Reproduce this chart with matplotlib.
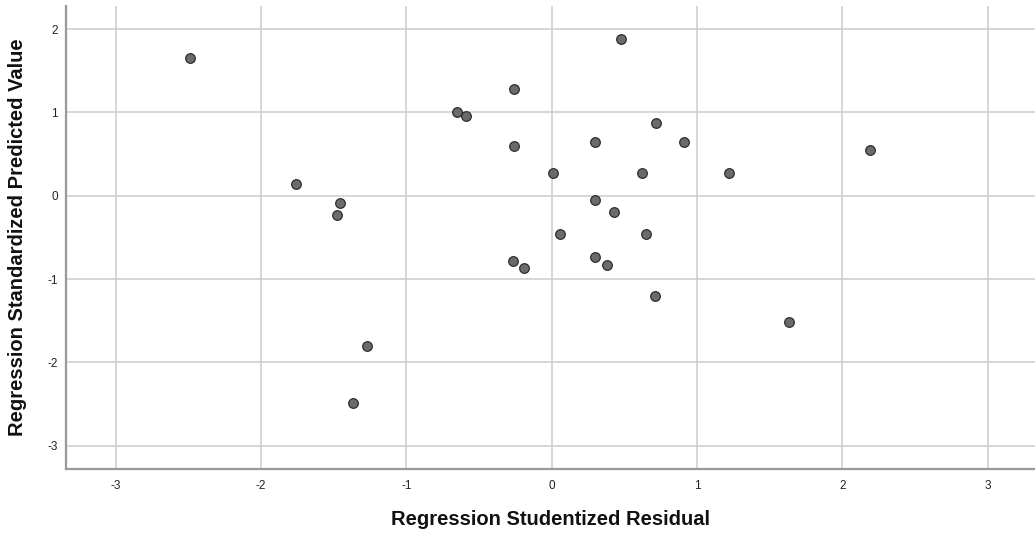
import matplotlib
matplotlib.use("Agg")
import matplotlib.pyplot as plt

studentized_residual = [-2.49, 0.48, -0.26, -0.65, -0.59, 0.72, -0.26, 0.30, 0.91,
                        0.01, 0.62, 1.22, 0.30, 0.43, 0.06, 0.65, -0.27, -0.19,
                        0.30, 0.38, 0.71, -1.76, -1.46, -1.48, -1.27, -1.37, 2.19, 1.63]
standardized_predicted = [1.65, 1.88, 1.28, 1.01, 0.96, 0.87, 0.60, 0.64, 0.64,
                          0.27, 0.27, 0.27, -0.05, -0.19, -0.46, -0.46, -0.78, -0.87,
                          -0.74, -0.83, -1.20, 0.14, -0.09, -0.23, -1.80, -2.49, 0.55, -1.52]
x_ticks = [-3, -2, -1, 0, 1, 2, 3]
y_ticks = [-3, -2, -1, 0, 1, 2]
x_label = "Regression Studentized Residual"
y_label = "Regression Standardized Predicted Value"

plt.rcParams['font.family'] = ['Liberation Sans', 'DejaVu Sans']

W, H = 1035, 539
fig = plt.figure(figsize=(W / 100, H / 100), dpi=100)
left_px, right_px, top_px, bottom_px = 66, 1035, 6, 469.3
ax = fig.add_axes([left_px / W, (H - bottom_px) / H,
                   (right_px - left_px) / W, (bottom_px - top_px) / H])

ax.scatter(studentized_residual, standardized_predicted, s=48,
           facecolor='#6b6b6b', edgecolor='#2e2e2e', linewidth=0.9, zorder=3)

ax.set_xlim(-3.343, 3.326)
ax.set_ylim(-3.284, 2.277)
ax.set_xticks(x_ticks)
ax.set_yticks(y_ticks)
ax.set_xticklabels([str(t) for t in x_ticks])
ax.set_yticklabels([str(t) for t in y_ticks])
ax.grid(True, color='#cccccc', linewidth=1.1, zorder=0)
ax.set_axisbelow(True)

for s in ['top', 'right']:
    ax.spines[s].set_visible(False)
for s in ['left', 'bottom']:
    ax.spines[s].set_color('#999999')
    ax.spines[s].set_linewidth(1.6)

ax.tick_params(axis='both', length=0, labelsize=8.5, labelcolor='#222222')
ax.tick_params(axis='x', pad=8)
ax.tick_params(axis='y', pad=6)

ax.set_xlabel(x_label, fontsize=14.5, fontweight='bold', color='#111111')
ax.set_ylabel(y_label, fontsize=14.5, fontweight='bold', color='#111111')
ax.xaxis.label.set_va('center')
ax.yaxis.label.set_va('center')
ax.xaxis.set_label_coords(0.5, -50.2 / (bottom_px - top_px))
ax.yaxis.set_label_coords(-48 / (right_px - left_px), 0.5)

fig.savefig("out.png", dpi=100, facecolor='white')
